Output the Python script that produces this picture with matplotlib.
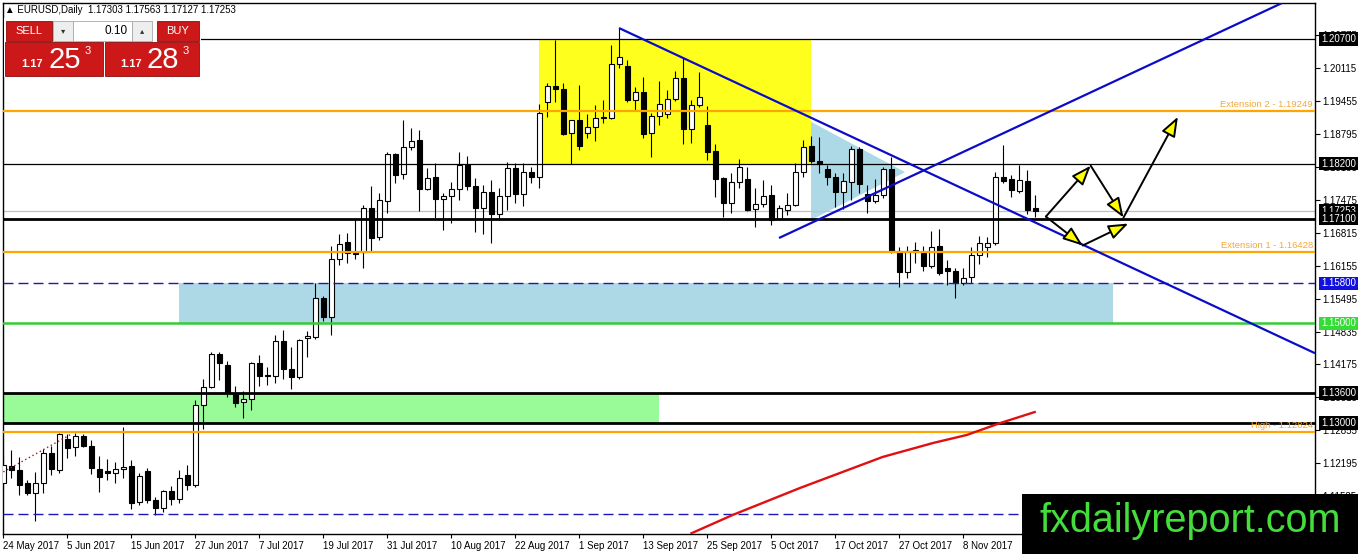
import matplotlib
matplotlib.use("Agg")
import matplotlib.pyplot as plt
from matplotlib.patches import Rectangle, Polygon
import matplotlib.transforms as mtransforms

# ---------------- data ----------------
symbol_header = "\u25b2 EURUSD,Daily  1.17303 1.17563 1.17127 1.17253"

opens = [1.1180, 1.1214, 1.1206, 1.1180, 1.1160, 1.1180, 1.1240, 1.1206, 1.1268, 1.1252,
         1.1274, 1.1254, 1.1208, 1.1204, 1.1200, 1.1208, 1.1214, 1.1142, 1.1204, 1.1146,
         1.1130, 1.1164, 1.1148, 1.1196, 1.1176, 1.1336, 1.1372, 1.1438, 1.1416, 1.1358,
         1.1342, 1.1348, 1.1420, 1.1396, 1.1394, 1.1465, 1.1408, 1.1392, 1.1471, 1.1473,
         1.1551, 1.1513, 1.1629, 1.1663, 1.1641, 1.1643, 1.1731, 1.1673, 1.1745, 1.1839,
         1.1799, 1.1853, 1.1867, 1.1769, 1.1793, 1.1749, 1.1755, 1.1769, 1.1817, 1.1775,
         1.1731, 1.1763, 1.1719, 1.1755, 1.1811, 1.1759, 1.1803, 1.1793, 1.1944, 1.1976,
         1.1970, 1.1882, 1.1908, 1.1882, 1.1894, 1.1912, 1.1912, 1.2020, 1.2016, 1.1948,
         1.1964, 1.1882, 1.1916, 1.1920, 1.1950, 1.1992, 1.1890, 1.1938, 1.1898, 1.1845,
         1.1791, 1.1741, 1.1783, 1.1789, 1.1729, 1.1739, 1.1757, 1.1709, 1.1727, 1.1737,
         1.1803, 1.1855, 1.1825, 1.1809, 1.1793, 1.1763, 1.1783, 1.1849, 1.1759, 1.1745,
         1.1757, 1.1809, 1.1645, 1.1603, 1.1643, 1.1641, 1.1615, 1.1655, 1.1611, 1.1605,
         1.1581, 1.1593, 1.1637, 1.1653, 1.1661, 1.1793, 1.1789, 1.1765, 1.1785, 1.17303]
highs = [1.1236, 1.1246, 1.1232, 1.1186, 1.1202, 1.1248, 1.1254, 1.1280, 1.1278, 1.1280,
         1.1278, 1.1266, 1.1234, 1.1228, 1.1222, 1.1292, 1.1226, 1.1200, 1.1210, 1.1152,
         1.1166, 1.1174, 1.1206, 1.1216, 1.1346, 1.1388, 1.1442, 1.1442, 1.1424, 1.1374,
         1.1364, 1.1422, 1.1436, 1.1412, 1.1477, 1.1487, 1.1453, 1.1469, 1.1485, 1.1581,
         1.1555, 1.1655, 1.1679, 1.1681, 1.1709, 1.1737, 1.1775, 1.1761, 1.1843, 1.1841,
         1.1908, 1.1892, 1.1888, 1.1811, 1.1821, 1.1761, 1.1783, 1.1843, 1.1835, 1.1791,
         1.1777, 1.1787, 1.1771, 1.1823, 1.1821, 1.1821, 1.1813, 1.1940, 1.1982, 1.2068,
         1.1982, 1.1908, 1.1978, 1.1920, 1.1938, 1.1948, 1.2058, 1.2092, 1.2028, 1.1974,
         1.1994, 1.1922, 1.1986, 1.1967, 1.2006, 1.2032, 1.1948, 1.2004, 1.1936, 1.1860,
         1.1793, 1.1801, 1.1829, 1.1813, 1.1771, 1.1787, 1.1777, 1.1737, 1.1761, 1.1821,
         1.1867, 1.1876, 1.1874, 1.1817, 1.1801, 1.1801, 1.1855, 1.1853, 1.1777, 1.1789,
         1.1813, 1.1833, 1.1653, 1.1655, 1.1663, 1.1655, 1.1685, 1.1689, 1.1627, 1.1611,
         1.1611, 1.1653, 1.1675, 1.1673, 1.1803, 1.1858, 1.1797, 1.1817, 1.1807, 1.17563]
lows = [1.1166, 1.1190, 1.1156, 1.1156, 1.1104, 1.1160, 1.1196, 1.1200, 1.1230, 1.1234,
        1.1252, 1.1198, 1.1162, 1.1186, 1.1180, 1.1190, 1.1128, 1.1136, 1.1140, 1.1116,
        1.1122, 1.1136, 1.1140, 1.1166, 1.1172, 1.1288, 1.1370, 1.1386, 1.1352, 1.1332,
        1.1310, 1.1326, 1.1374, 1.1376, 1.1380, 1.1388, 1.1368, 1.1388, 1.1432, 1.1469,
        1.1505, 1.1477, 1.1617, 1.1621, 1.1629, 1.1611, 1.1645, 1.1667, 1.1721, 1.1781,
        1.1789, 1.1847, 1.1725, 1.1767, 1.1711, 1.1687, 1.1701, 1.1747, 1.1767, 1.1683,
        1.1679, 1.1661, 1.1707, 1.1727, 1.1741, 1.1735, 1.1781, 1.1771, 1.1914, 1.1944,
        1.1878, 1.1819, 1.1847, 1.1872, 1.1865, 1.1902, 1.1910, 1.2012, 1.1944, 1.1926,
        1.1872, 1.1834, 1.1898, 1.1912, 1.1946, 1.1860, 1.1862, 1.1934, 1.1827, 1.1753,
        1.1713, 1.1721, 1.1771, 1.1725, 1.1693, 1.1733, 1.1697, 1.1707, 1.1717, 1.1735,
        1.1793, 1.1821, 1.1801, 1.1777, 1.1733, 1.1729, 1.1747, 1.1761, 1.1721, 1.1741,
        1.1751, 1.1641, 1.1573, 1.1591, 1.1621, 1.1605, 1.1611, 1.1597, 1.1577, 1.1551,
        1.1577, 1.1581, 1.1619, 1.1633, 1.1657, 1.1781, 1.1753, 1.1761, 1.1719, 1.17127]
closes = [1.1216, 1.1206, 1.1176, 1.1160, 1.1180, 1.1240, 1.1208, 1.1278, 1.1250, 1.1274,
          1.1254, 1.1210, 1.1192, 1.1200, 1.1208, 1.1212, 1.1140, 1.1194, 1.1146, 1.1130,
          1.1164, 1.1148, 1.1190, 1.1176, 1.1336, 1.1372, 1.1438, 1.1420, 1.1360, 1.1340,
          1.1348, 1.1420, 1.1394, 1.1394, 1.1465, 1.1408, 1.1392, 1.1467, 1.1475, 1.1551,
          1.1513, 1.1629, 1.1659, 1.1641, 1.1639, 1.1731, 1.1671, 1.1747, 1.1839, 1.1797,
          1.1853, 1.1865, 1.1769, 1.1791, 1.1749, 1.1755, 1.1769, 1.1817, 1.1775, 1.1731,
          1.1763, 1.1719, 1.1755, 1.1811, 1.1759, 1.1803, 1.1793, 1.1922, 1.1976, 1.1970,
          1.1880, 1.1908, 1.1856, 1.1894, 1.1912, 1.1914, 1.2020, 1.2034, 1.1948, 1.1964,
          1.1880, 1.1916, 1.1940, 1.1950, 1.1992, 1.1890, 1.1938, 1.1954, 1.1843, 1.1789,
          1.1741, 1.1783, 1.1813, 1.1727, 1.1739, 1.1755, 1.1707, 1.1731, 1.1737, 1.1803,
          1.1853, 1.1825, 1.1819, 1.1793, 1.1763, 1.1785, 1.1849, 1.1779, 1.1745, 1.1757,
          1.1809, 1.1645, 1.1603, 1.1645, 1.1647, 1.1615, 1.1653, 1.1601, 1.1605, 1.1581,
          1.1591, 1.1637, 1.1661, 1.1661, 1.1793, 1.1785, 1.1767, 1.1787, 1.1727, 1.17253]

date_tick_bars = [0, 8, 16, 24, 32, 40, 48, 56, 64, 72, 80, 88, 96, 104, 112, 120]
date_labels = ["24 May 2017", "5 Jun 2017", "15 Jun 2017", "27 Jun 2017", "7 Jul 2017",
               "19 Jul 2017", "31 Jul 2017", "10 Aug 2017", "22 Aug 2017", "1 Sep 2017",
               "13 Sep 2017", "25 Sep 2017", "5 Oct 2017", "17 Oct 2017", "27 Oct 2017",
               "8 Nov 2017"]

price_ticks = [1.20775, 1.20115, 1.19455, 1.18795, 1.18135, 1.17475, 1.16815, 1.16155,
               1.15495, 1.14835, 1.14175, 1.13515, 1.12855, 1.12195, 1.11535]

# horizontal levels
level_prices = [1.20700, 1.18200, 1.17100, 1.13600, 1.13000]
ext_prices = [1.19249, 1.16428, 1.12824]
ext_labels = ["Extension 2 - 1.19249", "Extension 1 - 1.16428", "High - 1.12824"]
blue_dash_levels = [1.15800, 1.11180]
green_level = 1.15000
current_price = 1.17253
box_values = [1.20700, 1.18200, 1.17253, 1.17100, 1.15800, 1.15000, 1.13600, 1.13000]
box_kinds = ["k", "k", "k", "k", "b", "g", "k", "k"]

# zones (bar start, bar end, price low, price high)
yellow_zone = (66.94, 100.94, 1.1820, 1.2070)
blue_zone = (21.94, 138.69, 1.1500, 1.1580)
green_zone = (-0.06, 81.94, 1.1300, 1.1360)
triangle_bars = [100.94, 100.94, 112.7]
triangle_prices = [1.1904, 1.1707, 1.1803]

# trend lines
down_line_bars = [76.94, 163.94]
down_line_prices = [1.2092, 1.1440]
up_line_bars = [96.94, 159.8]
up_line_prices = [1.1671, 1.2142]
dotted_bars = [-0.02, 8.5]
dotted_prices = [1.1202, 1.1278]
ma_bars = [86.0, 91.2, 99.6, 109.9, 116.2, 120.4, 124.6, 128.9]
ma_prices = [1.1079, 1.1116, 1.1170, 1.1232, 1.1260, 1.1276, 1.1300, 1.1322]

# projection arrows (start bar, start price, end bar, end price)
arrow_paths = [
    (130.3, 1.1714, 135.9, 1.1816),
    (135.9, 1.1816, 140.0, 1.1712),
    (140.0, 1.1712, 146.8, 1.1914),
    (130.3, 1.1714, 134.9, 1.1656),
    (134.9, 1.1656, 140.6, 1.1700),
]

watermark = "fxdailyreport.com"

# ---------------- figure ----------------
W, H = 1358, 554
fig = plt.figure(figsize=(W / 100, H / 100), dpi=100)
fig.patch.set_facecolor("white")
L, R, T, B = 3, 1315, 3, 534
ax = fig.add_axes([L / W, (H - B) / H, (R - L) / W, (B - T) / H])
ax.set_xlim(-0.06, 163.94)
ax.set_ylim(1.10775, 1.21422)
ax.set_facecolor("white")
for s in ax.spines.values():
    s.set_color("black")
    s.set_linewidth(1.0)

FONT = ["Liberation Sans", "DejaVu Sans"]

# zones
ax.add_patch(Rectangle((yellow_zone[0], yellow_zone[2]), yellow_zone[1] - yellow_zone[0],
                       yellow_zone[3] - yellow_zone[2], fc="#FFFF1E", ec="none", zorder=1))
ax.add_patch(Rectangle((blue_zone[0], blue_zone[2]), blue_zone[1] - blue_zone[0],
                       blue_zone[3] - blue_zone[2], fc="#ADD8E6", ec="none", zorder=1))
ax.add_patch(Rectangle((green_zone[0], green_zone[2]), green_zone[1] - green_zone[0],
                       green_zone[3] - green_zone[2], fc="#98FB98", ec="none", zorder=1))
ax.add_patch(Polygon(list(zip(triangle_bars, triangle_prices)), closed=True,
                     fc="#ADD8E6", ec="none", zorder=1))

# current price line
ax.axhline(current_price, color="#C0C0C0", lw=0.9, zorder=2)

# candles
for i, (o, h, l, c) in enumerate(zip(opens, highs, lows, closes)):
    ax.vlines(i, l, h, color="black", lw=0.8, zorder=3)
    bottom = min(o, c)
    height = abs(c - o)
    if height < 0.00008:
        ax.hlines((o + c) / 2, i - 0.3, i + 0.3, color="black", lw=0.9, zorder=4)
    else:
        ax.add_patch(Rectangle((i - 0.27, bottom), 0.54, height,
                               fc="white" if c > o else "black",
                               ec="black", lw=0.8, zorder=4))

# horizontal levels
for p in level_prices:
    lw = 0.9 if p in (1.20700, 1.18200) else 2.0
    ax.axhline(p, color="black", lw=lw, zorder=5)
for p in ext_prices:
    ax.axhline(p, color="#FFA500", lw=1.6, zorder=5)
for p in blue_dash_levels:
    ax.axhline(p, color="#1A1AB0", lw=1.0, ls=(0, (7.2, 3.6)), zorder=5)
ax.axhline(green_level, color="#32CD32", lw=1.8, zorder=5)

trans_r = mtransforms.blended_transform_factory(ax.transAxes, ax.transData)
for p, txt in zip(ext_prices, ext_labels):
    ax.text(0.9985, p + 0.0004, txt, transform=trans_r, ha="right", va="bottom",
            fontsize=6.8, color="#F2A93B", family=FONT, zorder=6)

# trend lines
ax.plot(down_line_bars, down_line_prices, color="#0C0CC8", lw=1.6, zorder=6,
        solid_capstyle="butt")
ax.plot(up_line_bars, up_line_prices, color="#0C0CC8", lw=1.6, zorder=6,
        solid_capstyle="butt")
ax.plot(dotted_bars, dotted_prices, color="#B01020", lw=1.0, ls=(0, (1, 2)), zorder=6)
ax.plot(ma_bars, ma_prices, color="#E01010", lw=1.7, zorder=6)

# arrows
for (x0, y0, x1, y1) in arrow_paths:
    ax.annotate("", xy=(x1, y1), xytext=(x0, y0),
                arrowprops=dict(arrowstyle="-|>,head_length=1.2,head_width=0.45",
                                mutation_scale=10, fc="#FFFF00", ec="black", lw=1.4,
                                shrinkA=0, shrinkB=0),
                zorder=7)

# axes ticks
ax.yaxis.tick_right()
ax.set_yticks(price_ticks)
ax.set_yticklabels([f"{v:.5f}" for v in price_ticks])
ax.tick_params(axis="y", length=3.5, width=0.8, pad=2, labelsize=7, colors="black")
ax.set_xticks(date_tick_bars)
ax.set_xticklabels(date_labels)
ax.tick_params(axis="x", length=3, width=0.8, pad=2, labelsize=7)
for lab in ax.get_xticklabels() + ax.get_yticklabels():
    lab.set_family(FONT)
for lab in ax.get_xticklabels():
    lab.set_ha("left")

# price boxes on axis
box_fc = {"k": "black", "b": "#1010E0", "g": "#33DD33"}
xbox = (1321 - L) / (R - L)
for v, k in zip(box_values, box_kinds):
    ax.text(xbox, v, f"{v:.5f}", transform=trans_r, ha="left", va="center",
            fontsize=7, color="white", family=FONT, clip_on=False, zorder=20,
            bbox=dict(boxstyle="square,pad=0.18", fc=box_fc[k], ec="none"))

# ---------------- figure-level decorations ----------------
def frect(x, y, w, h, **kw):
    fig.patches.append(Rectangle((x / W, 1 - (y + h) / H), w / W, h / H,
                                 transform=fig.transFigure, figure=fig, **kw))

def ftext(x, y, s, **kw):
    fig.text(x / W, 1 - y / H, s, **kw)

ftext(5, 10, symbol_header, fontsize=7, va="center", ha="left", family=FONT)

RED = "#CC1818"
frect(4, 18, 197, 59, fc="white", ec="none")
frect(6, 21, 46, 20, fc=RED, ec="#8A0E0E", lw=0.6)
frect(53, 21, 20, 20, fc="#EEEEEE", ec="#A8A8A8", lw=0.6)
frect(73, 21, 59, 20, fc="white", ec="#A8A8A8", lw=0.6)
frect(132, 21, 20, 20, fc="#EEEEEE", ec="#A8A8A8", lw=0.6)
frect(157, 21, 42, 20, fc=RED, ec="#8A0E0E", lw=0.6)
frect(5, 42, 98, 34, fc=RED, ec="#8A0E0E", lw=0.6)
frect(105, 42, 94, 34, fc=RED, ec="#8A0E0E", lw=0.6)

ftext(29, 31, "SELL", fontsize=8, color="white", ha="center", va="center", family=FONT)
ftext(178, 31, "BUY", fontsize=8, color="white", ha="center", va="center", family=FONT)
ftext(63, 31, "\u25be", fontsize=6, color="#333333", ha="center", va="center",
      family=["DejaVu Sans"])
ftext(142, 31, "\u25b4", fontsize=6, color="#333333", ha="center", va="center",
      family=["DejaVu Sans"])
ftext(128, 31, "0.10", fontsize=8.5, color="black", ha="right", va="center", family=FONT)
ftext(32, 64, "1.17", fontsize=8, color="white", ha="center", va="center",
      weight="bold", family=FONT)
ftext(65, 60, "25", fontsize=21, color="white", ha="center", va="center", family=FONT)
ftext(88, 51, "3", fontsize=8, color="white", ha="center", va="center", family=FONT)
ftext(131, 64, "1.17", fontsize=8, color="white", ha="center", va="center",
      weight="bold", family=FONT)
ftext(163, 60, "28", fontsize=21, color="white", ha="center", va="center", family=FONT)
ftext(186, 51, "3", fontsize=8, color="white", ha="center", va="center", family=FONT)

# watermark banner
frect(1022, 494, W - 1022, H - 494, fc="black", ec="none", zorder=30)
fig.text(1190 / W, 1 - 521 / H, watermark, fontsize=28.5, color="#44DD3C",
         ha="center", va="center", family=FONT, zorder=31)

fig.savefig("out.png", dpi=100)
